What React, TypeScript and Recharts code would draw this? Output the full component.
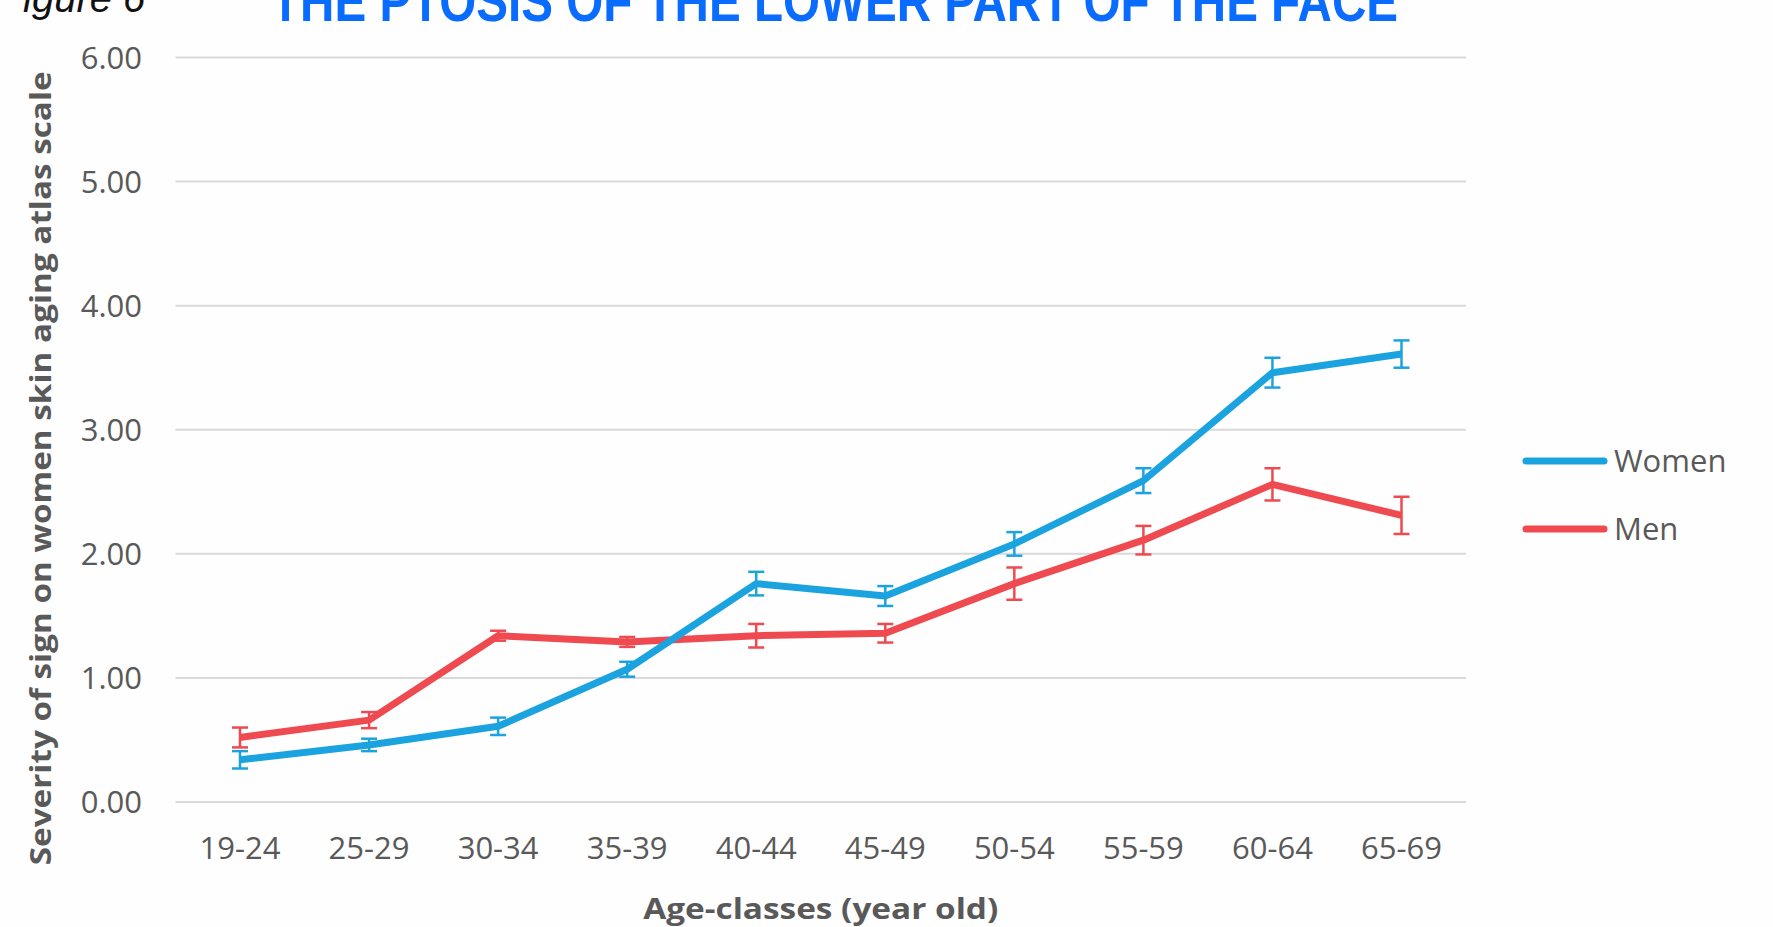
import React from 'react';
import { LineChart, Line, XAxis, YAxis, CartesianGrid, ErrorBar, Legend, Label } from 'recharts';

const categories = ['19-24', '25-29', '30-34', '35-39', '40-44', '45-49', '50-54', '55-59', '60-64', '65-69'];
const womenValues = [0.34, 0.46, 0.61, 1.07, 1.76, 1.66, 2.08, 2.59, 3.46, 3.61];
const womenErrors = [0.07, 0.05, 0.07, 0.06, 0.095, 0.08, 0.095, 0.1, 0.12, 0.11];
const menValues = [0.52, 0.66, 1.34, 1.29, 1.34, 1.36, 1.76, 2.11, 2.56, 2.31];
const menErrors = [0.08, 0.065, 0.04, 0.04, 0.095, 0.075, 0.13, 0.115, 0.13, 0.15];
const yTicks = [0, 1, 2, 3, 4, 5, 6];

const WOMEN_COLOR = '#1ba3df';
const MEN_COLOR = '#ee4a4f';
const TEXT_GRAY = '#595959';
const FONT = "'Open Sans', 'Noto Sans', sans-serif";

const data = categories.map((c, i) => ({
  age: c,
  women: womenValues[i],
  womenErr: womenErrors[i],
  men: menValues[i],
  menErr: menErrors[i],
}));

const legendItems = [
  { name: 'Women', color: WOMEN_COLOR },
  { name: 'Men', color: MEN_COLOR },
];

const LegendContent = () => (
  <div style={{ fontFamily: FONT }}>
    {legendItems.map((it) => (
      <div key={it.name} style={{ display: 'flex', alignItems: 'center', height: 68 }}>
        <svg width={90} height={12} style={{ display: 'block' }}>
          <line x1={6} y1={6} x2={84} y2={6} stroke={it.color} strokeWidth={7} strokeLinecap="round" />
        </svg>
        <span style={{ fontSize: 31, color: TEXT_GRAY, marginLeft: 4, lineHeight: '31px', position: 'relative', top: -1 }}>{it.name}</span>
      </div>
    ))}
  </div>
);

const XTitle = (props: any) => {
  const vb = props.viewBox || { x: 175.5, y: 802, width: 1290.5, height: 60 };
  return (
    <text
      x={vb.x + vb.width / 2}
      y={vb.y + 117}
      textAnchor="middle"
      fill={TEXT_GRAY}
      fontFamily={FONT}
      fontWeight="bold"
      fontSize={28}
      textLength={355}
      lengthAdjust="spacingAndGlyphs"
    >
      Age-classes (year old)
    </text>
  );
};

const YTitle = (props: any) => {
  const vb = props.viewBox || { x: 75.5, y: 57.5, width: 100, height: 744 };
  const cx = 51;
  const cy = vb.y + vb.height / 2 + 38.5;
  return (
    <text
      x={cx}
      y={cy}
      transform={`rotate(-90 ${cx} ${cy})`}
      textAnchor="middle"
      fill={TEXT_GRAY}
      fontFamily={FONT}
      fontWeight="bold"
      fontSize={29}
      textLength={794}
      lengthAdjust="spacingAndGlyphs"
    >
      Severity of sign on women skin aging atlas scale
    </text>
  );
};

export default function App() {
  return (
    <div style={{ position: 'absolute', left: 0, top: 0, width: 1773, height: 927, background: '#fefefe' }}>
      <LineChart
        width={1773}
        height={927}
        data={data}
        margin={{ top: 57.5, right: 307, bottom: 65, left: 75.5 }}
      >
        <CartesianGrid vertical={false} stroke="#d9d9d9" strokeWidth={2} />
        <XAxis
          dataKey="age"
          height={60}
          axisLine={false}
          tickLine={false}
          interval={0}
          padding={{ left: 64.5, right: 64.5 }}
          tickMargin={29}
          tick={{ fill: TEXT_GRAY, fontSize: 31, fontFamily: FONT }}
        >
          <Label content={<XTitle />} />
        </XAxis>
        <YAxis
          width={100}
          domain={[0, 6]}
          ticks={yTicks}
          interval={0}
          tickFormatter={(v: number) => v.toFixed(2)}
          axisLine={false}
          tickLine={false}
          tickMargin={27.5}
          tick={{ fill: TEXT_GRAY, fontSize: 31, fontFamily: FONT }}
        >
          <Label content={<YTitle />} />
        </YAxis>
        <Legend
          layout="vertical"
          align="center"
          verticalAlign="middle"
          content={<LegendContent />}
          wrapperStyle={{ position: 'absolute', left: 1520, top: 427, width: 250 }}
        />
        <Line
          type="linear"
          dataKey="men"
          name="Men"
          stroke={MEN_COLOR}
          strokeWidth={7}
          strokeLinejoin="round"
          dot={false}
          activeDot={false}
          isAnimationActive={false}
        >
          <ErrorBar dataKey="menErr" direction="y" width={8} stroke={MEN_COLOR} strokeWidth={2.5} isAnimationActive={false} />
        </Line>
        <Line
          type="linear"
          dataKey="women"
          name="Women"
          stroke={WOMEN_COLOR}
          strokeWidth={7}
          strokeLinejoin="round"
          dot={false}
          activeDot={false}
          isAnimationActive={false}
        >
          <ErrorBar dataKey="womenErr" direction="y" width={8} stroke={WOMEN_COLOR} strokeWidth={2.5} isAnimationActive={false} />
        </Line>
      </LineChart>
      <svg width={1773} height={927} style={{ position: 'absolute', left: 0, top: 0, pointerEvents: 'none' }}>
        <text x={23} y={12} fontFamily="'Liberation Sans', Arial, sans-serif" fontStyle="italic" fontSize={40} fill="#111">
          igure 6
        </text>
        <text
          x={271}
          y={20.5}
          fontFamily="'Liberation Sans Narrow', 'Liberation Sans', Arial, sans-serif"
          fontWeight="bold"
          fontSize={57}
          fill="#0a6cff"
          textLength={1127}
          lengthAdjust="spacingAndGlyphs"
        >
          THE PTOSIS OF THE LOWER PART OF THE FACE
        </text>
      </svg>
    </div>
  );
}
